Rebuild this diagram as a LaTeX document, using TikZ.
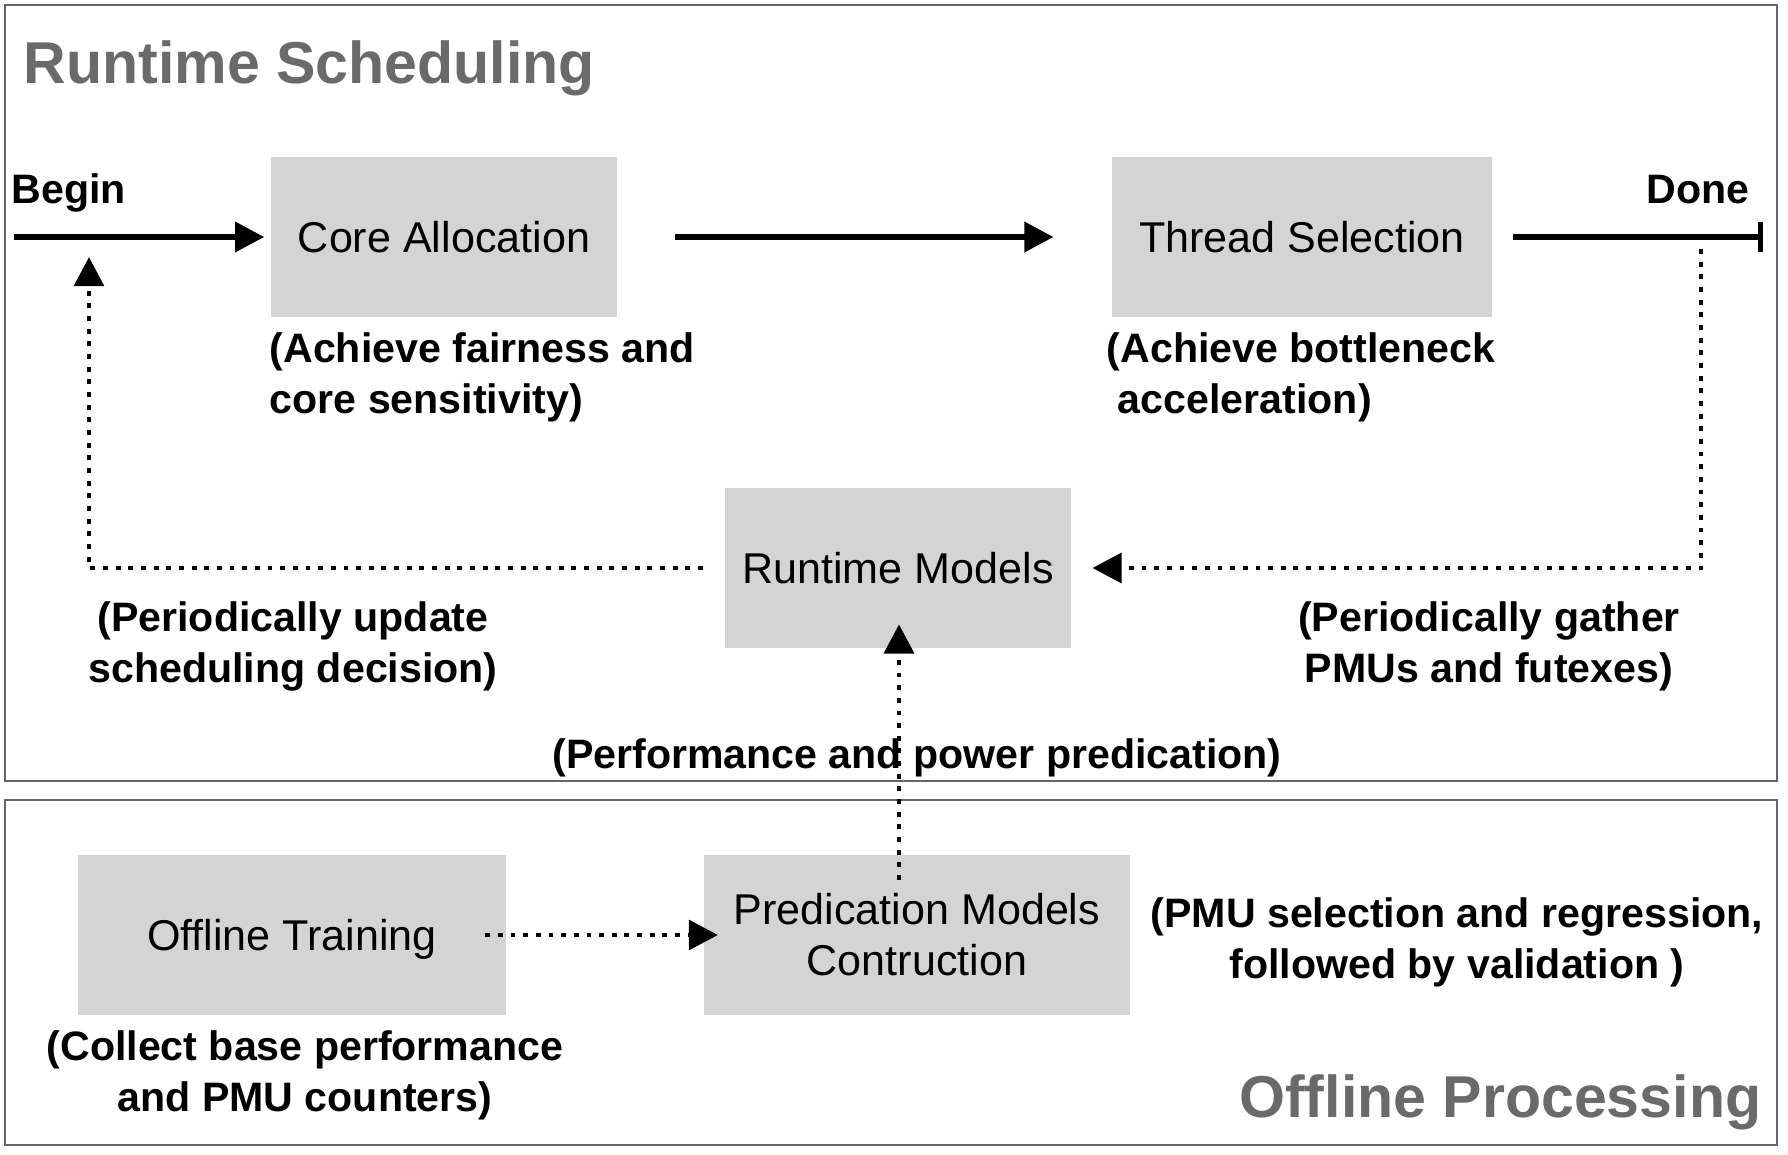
\documentclass[tikz,border=0pt]{standalone}
\usepackage{fontspec}
\setmainfont{Liberation Sans}
\usepackage{tikz}
\usetikzlibrary{arrows.meta,positioning}
\usepackage{xcolor}
\definecolor{stagegray}{HTML}{D4D4D4}
\definecolor{panelgray}{HTML}{666666}
\definecolor{titlegray}{HTML}{6A6A6A}
\newcommand{\stagefont}{\fontsize{12.25}{14.5}\selectfont}
\newcommand{\notefont}{\fontsize{11.7}{14.5}\selectfont\bfseries}
\newcommand{\headfont}{\fontsize{16.8}{20}\selectfont\bfseries}

\begin{document}
\begin{tikzpicture}[>={Triangle[length=8.3pt,width=8.4pt]},x=0.01cm,y=-0.01cm,
  stage/.style={fill=stagegray,inner sep=0pt,align=center,font=\stagefont,minimum height=1.59cm},
  note/.style={inner sep=0pt,font=\notefont},
  heading/.style={inner sep=0pt,font=\headfont,text=titlegray},
  panel/.style={draw=panelgray,line width=0.5pt},
  flow/.style={->,line width=1.5pt},
  feedback/.style={->,line width=1.4pt,dash pattern=on 1.4pt off 2.2pt}]
  \useasboundingbox (0,0) rectangle (1788,1154);

  % Panels
  \draw[panel] (5,5) rectangle (1777,781);
  \draw[panel] (5,800) rectangle (1777,1145);
  \node[heading,anchor=base west] (runtime) at (23,83) {Runtime Scheduling};
  \node[heading,anchor=base east] (offline) at (1762,1117) {Offline Processing};

  % Stages
  \node[stage,minimum width=3.46cm] (core) at (444,237) {Core Allocation};
  \node[stage,minimum width=3.80cm] (thread) at (1302,237) {Thread Selection};
  \node[stage,minimum width=3.45cm] (models) at (898,568) {Runtime Models};
  \node[stage,minimum width=4.27cm,text depth=0pt] (training) at (292,935) {Offline Training};
  \node[stage,minimum width=4.26cm] (predication) at (917,935) {Predication Models\\Contruction};

  % Notes
  \node[note,anchor=base west] (begin) at (11,203) {Begin};
  \node[note,anchor=base east] (done) at (1750,203) {Done};
  \node[note,align=left,anchor=west] (fairness) at (269,377) {(Achieve fairness and\\core sensitivity)};
  \node[note,align=left,anchor=west] (bottleneck) at (1106,377) {(Achieve bottleneck\\\hspace*{3.2pt}acceleration)};
  \node[note,align=center] (update) at (293,646) {(Periodically update\\scheduling decision)};
  \node[note,align=center] (gather) at (1489,646) {(Periodically gather\\PMUs and futexes)};
  \node[note] (predict) at (917,758) {(Performance and power predication)};
  \node[note,align=center] (regression) at (1457,942) {(PMU selection and regression,\\followed by validation )};
  \node[note,align=center] (collect) at (305,1075) {(Collect base performance\\and PMU counters)};

  % Free ends
  \coordinate (start) at (14,237);
  \coordinate (finish) at (1763,237);
  \coordinate (tap) at (1701,249);
  \coordinate (tapturn) at (1701,568);
  \coordinate (backturn) at (89,568);
  \coordinate (reentry) at (89,237);
  \coordinate (source) at (899,880);

  % Main flow
  \draw[flow,shorten >=1.7pt] (start) -- (core.west);
  \draw[flow,shorten <=16.4pt,shorten >=16.4pt] (core) -- (thread);
  \draw[line width=1.5pt,-{Bar[width=8.5pt]},shorten <=5.7pt] (thread) -- (finish);

  % Feedback loops
  \draw[feedback,shorten >=6pt] (tap) -- (tapturn) -- (models.east);
  \draw[feedback,shorten <=6.2pt,shorten >=5.7pt] (models.west) -- (backturn) -- (reentry);
  \draw[feedback,shorten >=-6.8pt] (source) -- (source |- models.south);
  \draw[feedback,shorten <=-6pt,shorten >=-4.2pt] (training) -- (predication);
\end{tikzpicture}
\end{document}
